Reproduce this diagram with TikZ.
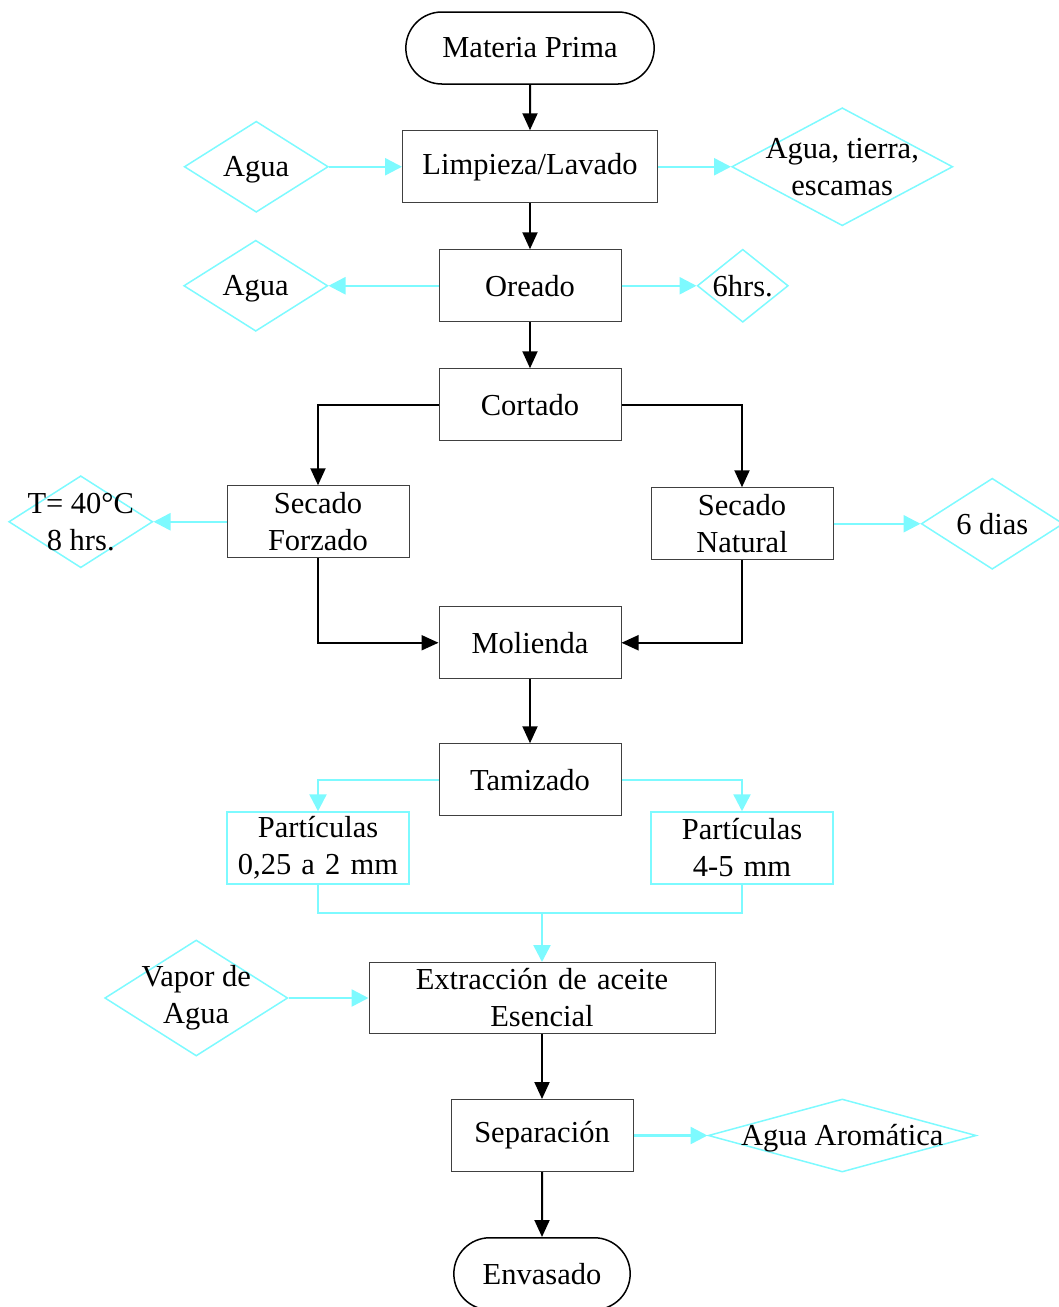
\documentclass[tikz,border=0pt]{standalone}
\usepackage{fontspec}
\setmainfont{Liberation Serif}
\usetikzlibrary{shapes.geometric, shapes.misc, arrows.meta, positioning, calc}
\definecolor{celeste}{RGB}{125,250,255}

\begin{document}
\begin{tikzpicture}[
        x=1pt, y=-1pt,
        font=\fontsize{30.5}{37}\selectfont,
        node distance=46pt and 29pt,
        proceso/.style={rectangle, draw=black!75, line width=1pt, text width=178pt, align=center, minimum height=72pt, inner sep=2pt},
        extremo/.style={rounded rectangle, draw, line width=1.5pt, minimum width=183pt, minimum height=72pt},
        salida/.style={rectangle, draw=celeste, line width=1.4pt, text width=178pt, align=center, minimum height=72pt, inner sep=2pt},
        entrada/.style={diamond, draw=celeste, line width=1.5pt, inner sep=0pt},
        arrow/.style={-{Triangle[length=17pt, width=15pt]}, line width=2pt},
        carrow/.style={-{Triangle[length=17pt, width=17pt]}, line width=2.5pt, draw=celeste}
    ]
        \useasboundingbox (0,0) rectangle (1058,1307);

        % columna principal
        \node[extremo, minimum width=255pt] (mp) at (530,48) {Materia Prima};
        \node[proceso, text width=251pt, below=45.5pt of mp] (limp) {Limpieza/Lavado};
        \node[proceso, below=of limp] (ore) {Oreado};
        \node[proceso, below=of ore] (cort) {Cortado};
        \node[proceso, below left=44pt and 29pt of cort] (forz) {Secado\\Forzado};
        \node[proceso, below right=46pt and 29pt of cort] (nat) {Secado\\Natural};
        \node[proceso, below=165pt of cort] (mol) {Molienda};
        \node[proceso, below=64pt of mol] (tam) {Tamizado};
        \node[salida, below=253pt of forz] (p1) {Partículas\\0,25 a 2 mm};
        \node[salida, below=251pt of nat] (p2) {Partículas\\4-5 mm};
        \node[proceso, text width=342pt, minimum height=71pt] (ext) at (542,998) {Extracción de aceite\\Esencial};
        \node[proceso, below=65pt of ext] (sep) {Separación};
        \node[extremo, below=65pt of sep] (env) {Envasado};

        % entradas y salidas
        \node[entrada, minimum width=144pt, minimum height=91pt, left=73pt of limp, label={[yshift=-3pt]center:Agua}] (agua1) {};
        \node[entrada, minimum width=221pt, minimum height=118pt, right=73pt of limp, label={[align=center]center:{Agua, tierra,\\escamas}}] (resid) {};
        \node[entrada, minimum width=144pt, minimum height=91pt, left=110pt of ore, label={[yshift=-3pt]center:Agua}] (agua2) {};
        \node[entrada, minimum width=91pt, minimum height=73pt, right=75pt of ore, label={center:6hrs.}] (hrs) {};
        \node[entrada, minimum width=144pt, minimum height=92pt, left=73pt of forz, label={[align=center]center:{T= 40°C\\8 hrs.}}] (temp) {};
        \node[entrada, minimum width=142pt, minimum height=91pt, right=87pt of nat, label={center:6 dias}] (dias) {};
        \node[entrada, minimum width=183pt, minimum height=116pt, left=80pt of ext, label={[align=center]center:{Vapor de\\Agua}}] (vapor) {};
        \node[entrada, minimum width=268pt, minimum height=73pt, right=74pt of sep, label={[yshift=-3pt]center:Agua Aromática}] (arom) {};
        \coordinate (union) at (542,913);

        \draw[arrow] (mp) -- (limp);
        \draw[arrow] (limp) -- (ore);
        \draw[arrow] (ore) -- (cort);
        \draw[arrow] (cort.west) -| (forz.north);
        \draw[arrow] (cort.east) -| (nat.north);
        \draw[arrow] (forz.south) |- (mol.west);
        \draw[arrow] (nat.south) |- (mol.east);
        \draw[arrow] (mol) -- (tam);
        \draw[arrow] (ext) -- (sep);
        \draw[arrow] (sep) -- (env);

        \draw[carrow] (agua1) -- (limp);
        \draw[carrow] (limp) -- (resid);
        \draw[carrow] (ore) -- (agua2);
        \draw[carrow] (ore) -- (hrs);
        \draw[carrow] (forz) -- (temp);
        \draw[carrow] (nat) -- (dias);
        \draw[carrow] (tam.west) -| (p1.north);
        \draw[carrow] (tam.east) -| (p2.north);
        \draw[celeste, line width=2.5pt] (p1.south) |- (union) -| (p2.south);
        \draw[carrow] (union) -- (ext);
        \draw[carrow] (vapor) -- (ext);
        \draw[carrow] (sep) -- (arom);
    \end{tikzpicture}
\end{document}
